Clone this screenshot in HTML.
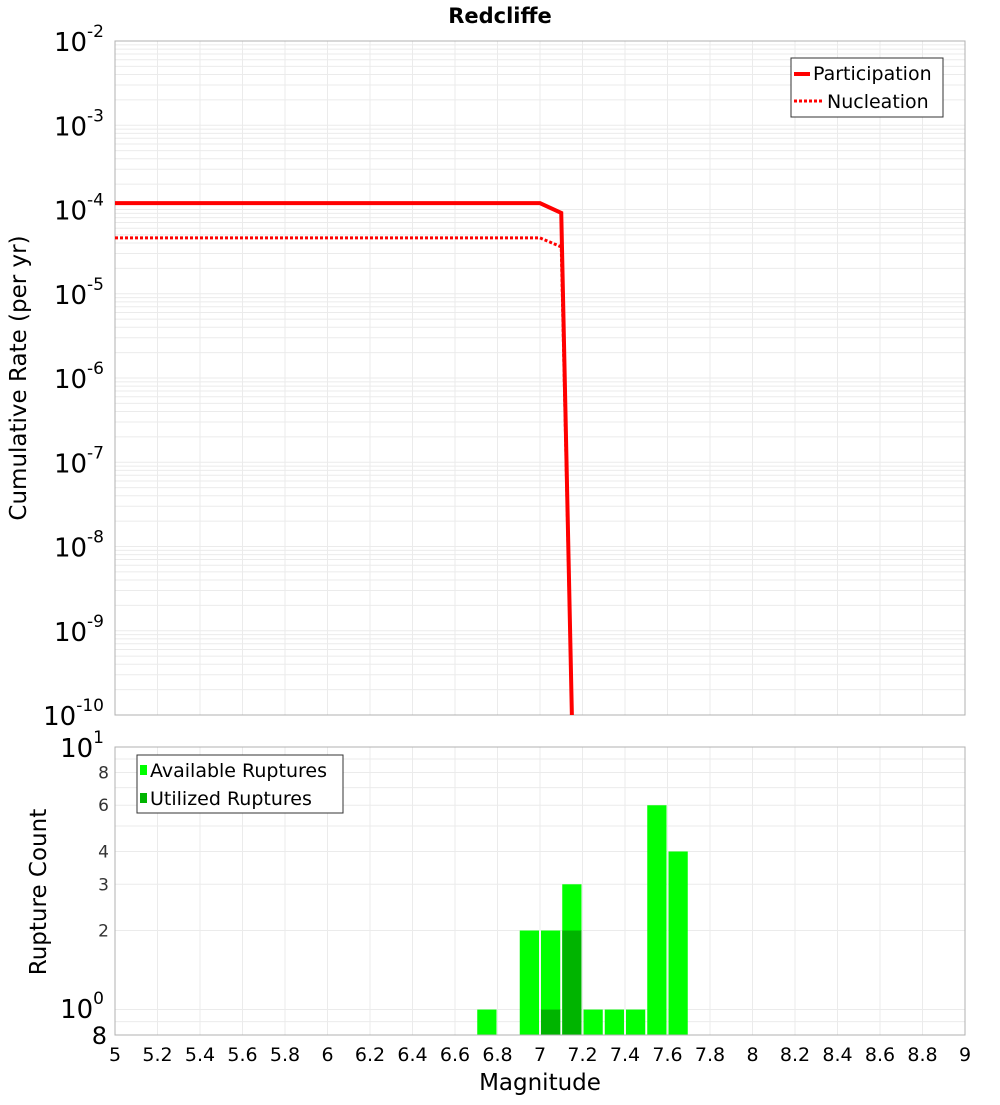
<!DOCTYPE html>
<html><head><meta charset="utf-8"><style>
body{margin:0;background:#fff;}
svg{font-family:"DejaVu Sans","Liberation Sans",sans-serif;}
</style></head><body>
<svg id="c" width="1000" height="1100" viewBox="0 0 1000 1100" xmlns="http://www.w3.org/2000/svg"></svg>
<script>
const magTicks=[5,5.2,5.4,5.6,5.8,6,6.2,6.4,6.6,6.8,7,7.2,7.4,7.6,7.8,8,8.2,8.4,8.6,8.8,9];
const magTickLabels=["5","5.2","5.4","5.6","5.8","6","6.2","6.4","6.6","6.8","7","7.2","7.4","7.6","7.8","8","8.2","8.4","8.6","8.8","9"];
const rateExps=[-2,-3,-4,-5,-6,-7,-8,-9,-10];
const partMags=[5,7.0,7.1,7.15];
const partRates=[1.19e-4,1.19e-4,9.1e-5,1e-10];
const nuclMags=[5,7.0,7.1,7.15];
const nuclRates=[4.6e-5,4.6e-5,3.6e-5,1e-10];
const binMags=[6.75,6.95,7.05,7.15,7.25,7.35,7.45,7.55,7.65];
const availCounts=[1,2,2,3,1,1,1,6,4];
const utilMags=[7.05,7.15];
const utilCounts=[1,2];
const countTicks=[0.8,2,3,4,6,8];
const countTickLabels=["8","2","3","4","6","8"];

const svg=document.getElementById('c');
const NS='http://www.w3.org/2000/svg';
function mk(tag,attrs,parent){const e=document.createElementNS(NS,tag);for(const k in attrs)e.setAttribute(k,attrs[k]);(parent||svg).appendChild(e);return e;}
const X0=115,X1=965;
const xs=m=>X0+(m-5)/4*(X1-X0);
const T0=41,T1=715;
const yTop=v=>T0+(-2-Math.log10(v))/8*(T1-T0);
const B0=747,B1=1035;
const yBot=v=>B1-(Math.log10(v)-Math.log10(0.8))/Math.log10(10/0.8)*(B1-B0);

let t=mk('text',{x:500,y:23,'text-anchor':'middle','font-size':21,'font-weight':'bold'});t.textContent='Redcliffe';


const tg=mk('g',{});
for(let d=-10;d<-2;d++){for(let k=1;k<10;k++){const y=yTop(k*Math.pow(10,d));mk('line',{x1:X0,x2:X1,y1:y,y2:y,stroke:'#ebebeb','stroke-width':1},tg);}}
for(const m of magTicks){mk('line',{x1:xs(m),x2:xs(m),y1:T0,y2:T1,stroke:'#ebebeb'},tg);}
let f=mk('rect',{x:X0,y:T0,width:X1-X0,height:T1-T0,fill:'none',stroke:'#b0b0b0'});

for(const e of rateExps){const y=yTop(Math.pow(10,e));
 const tx=mk('text',{x:104,y:y+10,'text-anchor':'end','font-size':26});
 
 tx.textContent='10';const s=mk('tspan',{dy:-14,'font-size':17},tx);s.textContent=String(e);}
t=mk('text',{transform:'translate(26,378) rotate(-90)','text-anchor':'middle','font-size':23});t.textContent='Cumulative Rate (per yr)';


const clip=mk('clipPath',{id:'tc'});mk('rect',{x:X0,y:T0,width:X1-X0,height:T1-T0},clip);
let p=mk('polyline',{points:partMags.map((m,i)=>xs(m)+','+yTop(partRates[i])).join(' '),fill:'none',stroke:'#ff0000','stroke-width':4,'clip-path':'url(#tc)'});

p=mk('polyline',{points:nuclMags.map((m,i)=>xs(m)+','+yTop(nuclRates[i])).join(' '),fill:'none',stroke:'#ff0000','stroke-width':3,'stroke-dasharray':'3,2','clip-path':'url(#tc)'});

const lg=mk('g',{});
mk('rect',{x:791,y:58,width:152,height:59,fill:'#fff',stroke:'#333'},lg);
mk('line',{x1:794,x2:810,y1:74,y2:74,stroke:'red','stroke-width':4},lg);
t=mk('text',{x:813,y:80,'font-size':19},lg);t.textContent='Participation';
mk('line',{x1:794,x2:822,y1:101,y2:101,stroke:'red','stroke-width':3,'stroke-dasharray':'3,2'},lg);
t=mk('text',{x:827,y:108,'font-size':19},lg);t.textContent='Nucleation';

const bg=mk('g',{});
for(const v of [0.9,1,2,3,4,5,6,7,8,9]){const y=yBot(v);mk('line',{x1:X0,x2:X1,y1:y,y2:y,stroke:'#ebebeb'},bg);}
for(const m of magTicks){mk('line',{x1:xs(m),x2:xs(m),y1:B0,y2:B1,stroke:'#ebebeb'},bg);}
const bw=(X1-X0)/40;
binMags.forEach((m,i)=>{const b=mk('rect',{x:xs(m)-bw/2+1,y:yBot(availCounts[i]),width:bw-2,height:B1-yBot(availCounts[i]),fill:'#00ff00'});
 });
utilMags.forEach((m,i)=>{const b=mk('rect',{x:xs(m)-bw/2+1,y:yBot(utilCounts[i]),width:bw-2,height:B1-yBot(utilCounts[i]),fill:'#00b400'});
 });
f=mk('rect',{x:X0,y:B0,width:X1-X0,height:B1-B0,fill:'none',stroke:'#b0b0b0'});

countTicks.forEach((v,i)=>{if(i===0)return;const tx=mk('text',{x:109,y:yBot(v)+6,'text-anchor':'end','font-size':17,fill:'#333'});tx.textContent=countTickLabels[i];
 });
t=mk('text',{x:107,y:1044,'text-anchor':'end','font-size':24});t.textContent='8';
t=mk('text',{x:104,y:1018,'text-anchor':'end','font-size':26});t.textContent='10';let s=mk('tspan',{dy:-14,'font-size':17},t);s.textContent='0';
t=mk('text',{x:104,y:757,'text-anchor':'end','font-size':26});t.textContent='10';s=mk('tspan',{dy:-14,'font-size':17},t);s.textContent='1';
t=mk('text',{transform:'translate(46,892) rotate(-90)','text-anchor':'middle','font-size':23});t.textContent='Rupture Count';

const bl=mk('g',{});
mk('rect',{x:137,y:755,width:206,height:58,fill:'#fff',stroke:'#333'},bl);
mk('rect',{x:140,y:765,width:7,height:10,fill:'#00ff00'},bl);
t=mk('text',{x:150,y:777,'font-size':19},bl);t.textContent='Available Ruptures';
mk('rect',{x:140,y:793,width:7,height:10,fill:'#00b400'},bl);
t=mk('text',{x:150,y:805,'font-size':19},bl);t.textContent='Utilized Ruptures';
magTicks.forEach((m,i)=>{const tx=mk('text',{x:xs(m),y:1061,'text-anchor':'middle','font-size':19});tx.textContent=magTickLabels[i];
 });
t=mk('text',{x:540,y:1090,'text-anchor':'middle','font-size':23});t.textContent='Magnitude';

</script>
</body></html>
